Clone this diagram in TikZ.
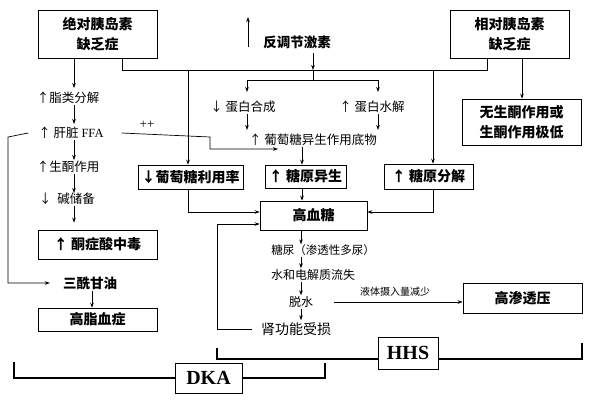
\documentclass[tikz,border=0pt]{standalone}
\usepackage{fontspec}
\setmainfont{Liberation Serif}
\newfontfamily\cjk{Noto Sans CJK SC}
\usetikzlibrary{arrows.meta}
\begin{document}
\begin{tikzpicture}[x=1pt,y=-1pt,
  box/.style={draw, line width=0.7pt, inner sep=0pt, align=center, font=\cjk\bfseries\fontsize{14}{20}\selectfont},
  lbl/.style={inner sep=1pt, font=\cjk\fontsize{12.5}{15}\selectfont},
  blbl/.style={inner sep=1pt, font=\cjk\bfseries\fontsize{13.5}{16}\selectfont},
  slbl/.style={inner sep=1pt, font=\cjk\fontsize{11.5}{14}\selectfont},
  arr/.style={-{Stealth[length=5pt,width=3.6pt]}, line width=0.7pt},
  ln/.style={line width=0.7pt},
  brk/.style={line width=2.6pt},
  tag/.style={draw, line width=0.8pt, inner sep=0pt, font=\bfseries\fontsize{20}{24}\selectfont}]
\useasboundingbox (0,0) rectangle (593,405);
\fill[white] (0,0) rectangle (593,405);

% boxes
\node[box, minimum width=119, minimum height=48] (b1) at (97.5,34) {绝对胰岛素\\缺乏症};
\node[box, minimum width=119, minimum height=48] (b2) at (509.5,34) {相对胰岛素\\缺乏症};
\node[box, minimum width=119, minimum height=46] (b3) at (521.5,122) {无生酮作用或\\生酮作用极低};
\node[box, minimum width=105, minimum height=24] (b4) at (190.5,177) {↓葡萄糖利用率};
\node[box, minimum width=81, minimum height=23] (b5) at (305.5,176.5) {↑ 糖原异生};
\node[box, minimum width=89, minimum height=25] (b6) at (428.5,176.5) {↑ 糖原分解};
\node[box, minimum width=107, minimum height=29] (b7) at (313.5,215.5) {高血糖};
\node[box, minimum width=119, minimum height=29] (b8) at (97.5,244.5) {↑ 酮症酸中毒};
\node[box, minimum width=119, minimum height=23] (b9) at (97.5,319.5) {高脂血症};
\node[box, minimum width=119, minimum height=30] (b10) at (522.5,298) {高渗透压};
\node[tag, minimum width=60, minimum height=32] (hhs) at (408,353) {HHS};
\node[tag, minimum width=67, minimum height=30] (dka) at (208.5,378) {DKA};

% labels
\node[lbl] (lzhi) at (68,98) {↑脂类分解};
\node[lbl] (lffa) at (71,133) {↑ 肝脏 {\rmfamily FFA}};
\node[lbl] (lsheng) at (68,167) {↑生酮作用};
\node[lbl] (ljian) at (67,199) {↓\ \ 碱储备};
\node[blbl] (lsan) at (90,283) {三酰甘油};
\node[blbl] (lfan) at (297,42) {反调节激素};
\node[lbl] (ldanhe) at (243,107) {↓ 蛋白合成};
\node[lbl] (ldanshui) at (372,107) {↑ 蛋白水解};
\node[lbl] (ldiwu) at (313,140) {↑ 葡萄糖异生作用底物};
\node[inner sep=1pt, font=\fontsize{13}{15}\selectfont] (lpp) at (147,125) {++};
\node[slbl] (lniao) at (323,250) {糖尿（渗透性多尿）};
\node[lbl, font=\cjk\fontsize{12}{14}\selectfont] (lshui) at (313,275) {水和电解质流失};
\node[lbl, font=\cjk\fontsize{12}{14}\selectfont] (ltuo) at (301,302) {脱水};
\node[lbl, font=\cjk\fontsize{14}{16}\selectfont] (lshen) at (296,329) {肾功能受损};
\node[inner sep=1pt, font=\cjk\fontsize{10}{12}\selectfont] (lye) at (395,292) {液体摄入量减少};

% coordinates
\coordinate (colL) at (74,0);
\coordinate (colM) at (301,0);
\coordinate (fanA) at (248,47);
\coordinate (fanB) at (248,17);
\coordinate (hubTop) at (313,53);
\coordinate (hub) at (313,70);
\coordinate (br) at (313,80);
\coordinate (brL) at (247,80);
\coordinate (brR) at (378,80);
\coordinate (tipL) at (247,92);
\coordinate (tipR) at (378,92);
\coordinate (vL) at (188,70);
\coordinate (vR) at (433,70);

% main top connector
\draw[ln] ([xshift=24.5]b1.south) -- ++(0,12) -| ([xshift=-22.5]b2.south);
\draw[arr, line width=0.9pt] (fanA) -- (fanB);
\draw[arr] (hubTop) -- (hub);
\draw[ln] (hub) -- (br);
\draw[ln] (brL) -- (brR);
\draw[arr] (brL) -- (tipL);
\draw[arr] (brR) -- (tipR);
\draw[arr] (ldanhe.south -| 247,0) -- (247,130);
\draw[arr] (ldanshui.south -| 378,0) -- (378,130);
\draw[arr] (ldiwu.south -| 302,0) -- (b5.north -| 302,0);
\draw[arr] (b5.south -| 302,0) -- (b7.north -| 302,0);
\draw[arr] (vL) -- ([xshift=-2.5]b4.north);
\draw[arr] (vR) -- ([xshift=4.5]b6.north);
\draw[arr] ([xshift=-2.5]b4.south) |- ([yshift=3.5]b7.west);
\draw[arr] ([xshift=4.5]b6.south) |- ([yshift=3.5]b7.east);

% right insulin
\draw[arr] ([xshift=12.5]b2.south) -- (b3.north -| 522,0);

% left chain
\draw[arr] (b1.south -| colL) -- ([yshift=3]lzhi.north -| colL);
\draw[arr] (lzhi.south -| colL) -- ([yshift=2]lffa.north -| colL);
\draw[arr] (lffa.south -| colL) -- (lsheng.north -| colL);
\draw[arr] (lsheng.south -| colL) -- ([yshift=-1]ljian.north -| colL);
\draw[arr] (ljian.south -| colL) -- ([yshift=7]b8.north -| colL);
\draw[ln, -{Stealth[length=5pt,width=3.6pt]}] ([xshift=17]lffa.east) -- (210,137) -- (210,149) -- (278,149);
\draw[arr] ([xshift=-9]lffa.west) -- (8,137) |- ([xshift=-12]lsan.west);
\draw[arr] (lsan.south -| 92,0) -- (b9.north -| 92,0);

% right chain
\draw[arr] (b7.south -| colM) -- ([yshift=-1]lniao.north -| colM);
\draw[arr] (lniao.south -| colM) -- (lshui.north -| colM);
\draw[arr] (lshui.south -| colM) -- (ltuo.north -| colM);
\draw[arr] (ltuo.south -| colM) -- ([yshift=1]lshen.north -| colM);
\draw[arr] ([xshift=20]ltuo.east) -- ([yshift=-4]b10.west);
\draw[arr] ([xshift=-8]lshen.west) -- (217,329) |- ([yshift=-8.5]b7.west);

% brackets
\draw[brk] (217,348) -- (217,359) -- (hhs.west |- 0,359);
\draw[brk] (hhs.east |- 0,359) -- (582,359) -- (582,343);
\draw[brk] (14,362) -- (14,378) -- (dka.west);
\draw[brk] (dka.east) -- (325,378) -- (325,363);
\end{tikzpicture}
\end{document}
